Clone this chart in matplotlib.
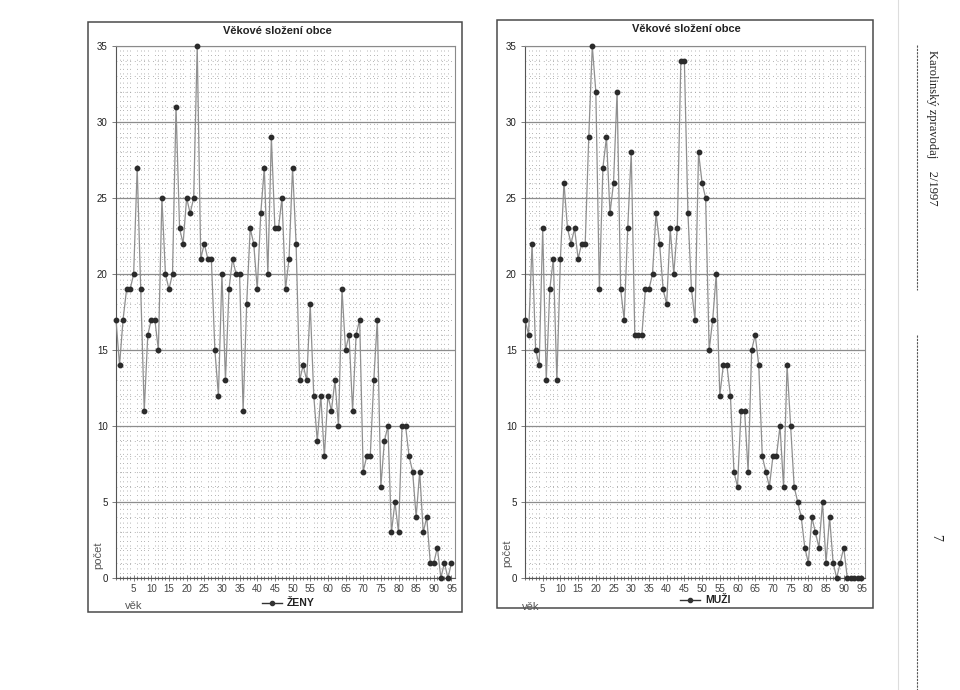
import numpy as np
import matplotlib.pyplot as plt
from matplotlib.patches import Rectangle
from matplotlib.lines import Line2D

# ---------------------------------------------------------------
# data (age 0..95)
# ---------------------------------------------------------------
vek = list(range(96))

zeny = [17, 14, 17, 19, 19, 20, 27, 19, 11, 16, 17, 17, 15, 25, 20, 19,
        20, 31, 23, 22, 25, 24, 25, 35, 21, 22, 21, 21, 15, 12, 20, 13,
        19, 21, 20, 20, 11, 18, 23, 22, 19, 24, 27, 20, 29, 23, 23, 25,
        19, 21, 27, 22, 13, 14, 13, 18, 12, 9, 12, 8, 12, 11, 13, 10,
        19, 15, 16, 11, 16, 17, 7, 8, 8, 13, 17, 6, 9, 10, 3, 5,
        3, 10, 10, 8, 7, 4, 7, 3, 4, 1, 1, 2, 0, 1, 0, 1]

muzi = [17, 16, 22, 15, 14, 23, 13, 19, 21, 13, 21, 26, 23, 22, 23, 21,
        22, 22, 29, 35, 32, 19, 27, 29, 24, 26, 32, 19, 17, 23, 28, 16,
        16, 16, 19, 19, 20, 24, 22, 19, 18, 23, 20, 23, 34, 34, 24, 19,
        17, 28, 26, 25, 15, 17, 20, 12, 14, 14, 12, 7, 6, 11, 11, 7,
        15, 16, 14, 8, 7, 6, 8, 8, 10, 6, 14, 10, 6, 5, 4, 2,
        1, 4, 3, 2, 5, 1, 4, 1, 0, 1, 2, 0, 0, 0, 0, 0]

vek_ticks = list(range(5, 100, 5))
pocet_ticks = list(range(0, 40, 5))

TITLE = "Věkové složení obce"

plt.rcParams['font.family'] = ['Liberation Sans', 'DejaVu Sans']

W, H = 960.0, 690.0


def fx(px):
    return px / W


def fy(py):
    return 1 - py / H


fig = plt.figure(figsize=(9.6, 6.9), dpi=100)
fig.patch.set_facecolor('white')


def panel(frame, plot, values, name, title_xy, legend_xy, vek_xy, pocet_xy):
    # frame around the whole chart (pixel box: left, top, right, bottom)
    l, t, r, b = frame
    fig.add_artist(Rectangle((fx(l), fy(b)), fx(r - l), (b - t) / H,
                             transform=fig.transFigure, fill=False,
                             ec='#4a4a4a', lw=1.1))

    l, t, r, b = plot
    ax = fig.add_axes([fx(l), fy(b), fx(r - l), (b - t) / H])
    ax.set_xlim(0, 96)
    ax.set_ylim(0, 35)

    ax.set_xticks(vek_ticks)
    ax.set_xticks(vek, minor=True)
    ax.set_yticks(pocet_ticks)
    ax.set_yticks(np.arange(0, 36, 1), minor=True)

    ax.grid(axis='y', which='major', color='#8c8c8c', lw=0.9, ls='-')
    ax.grid(axis='x', which='minor', color='#9a9a9a', lw=0.6,
            ls=(0, (1, 4.5)))
    ax.grid(axis='y', which='minor', color='#9a9a9a', lw=0.6,
            ls=(0, (1, 4.5)))
    ax.set_axisbelow(True)

    for s in ax.spines.values():
        s.set_color('#8a8a8a')
        s.set_linewidth(0.8)
    ax.spines['left'].set_color('#555555')
    ax.spines['bottom'].set_color('#555555')

    ax.tick_params(axis='x', which='both', direction='inout', length=4,
                   width=0.6, color='#666666', labelsize=7,
                   labelcolor='#444444', pad=2)
    ax.tick_params(axis='x', which='minor', length=3)
    ax.tick_params(axis='y', which='major', direction='out', length=3,
                   width=0.6, color='#666666', labelsize=7,
                   labelcolor='#222222', pad=3)
    ax.tick_params(axis='y', which='minor', length=0)

    ax.plot(vek, values, color='#8f8f8f', lw=0.9, marker='o', ms=3.2,
            mfc='#2b2b2b', mec='#2b2b2b', zorder=3, clip_on=False)

    fig.text(fx(title_xy[0]), fy(title_xy[1]), TITLE, ha='center',
             va='center', fontsize=8, fontweight='bold', color='#222222')

    # legend drawn by hand under the axis
    lx, ly = legend_xy
    fig.add_artist(Line2D([fx(lx), fx(lx + 10), fx(lx + 20)],
                          [fy(ly)] * 3, transform=fig.transFigure,
                          color='#333333', lw=1, marker='o', ms=3,
                          markevery=[1]))
    fig.text(fx(lx + 25), fy(ly), name, ha='left', va='center',
             fontsize=7.5, fontweight='bold', color='#222222')

    fig.text(fx(vek_xy[0]), fy(vek_xy[1]), 'věk', ha='left', va='center',
             fontsize=8, color='#555555')
    fig.text(fx(pocet_xy[0]), fy(pocet_xy[1]), 'počet', ha='center',
             va='center', rotation=90, fontsize=8, color='#555555')
    return ax


panel((88, 22, 462, 612), (116, 46, 455, 578), zeny, 'ŽENY',
      (277, 31), (262, 603), (125, 606), (98, 555))
panel((497, 20, 873, 608), (525, 46, 865, 578), muzi, 'MUŽI',
      (686, 29), (680, 600), (522, 607), (507, 553))

# page margin of the scanned journal
fig.text(fx(932), fy(128), 'Karolinský zpravodaj    2/1997', rotation=-90,
         ha='center', va='center', fontsize=9,
         family=['Liberation Serif', 'DejaVu Serif'], color='#222222')
fig.text(fx(936), fy(537), '7', rotation=-90, ha='center', va='center',
         fontsize=10, family=['Liberation Serif', 'DejaVu Serif'],
         color='#222222')
fig.add_artist(Line2D([fx(917), fx(917)], [fy(45), fy(290)],
                      transform=fig.transFigure, color='#555555', lw=0.8,
                      ls=(0, (2, 1))))
fig.add_artist(Line2D([fx(917), fx(917)], [fy(335), fy(690)],
                      transform=fig.transFigure, color='#555555', lw=0.8,
                      ls=(0, (2, 1))))
fig.add_artist(Line2D([fx(898), fx(898)], [fy(0), fy(690)],
                      transform=fig.transFigure, color='#dddddd', lw=0.8))

fig.savefig('out.png', dpi=100, facecolor='white')
